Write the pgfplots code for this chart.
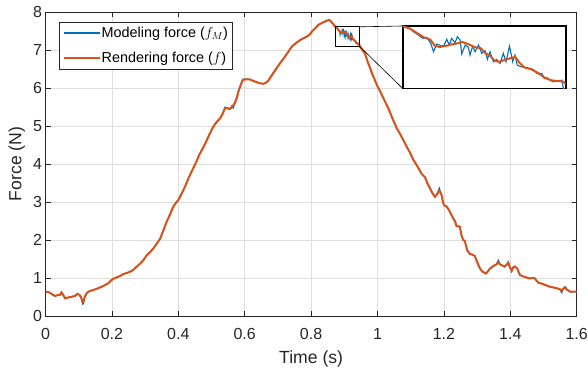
\documentclass[border=0pt]{standalone}
\usepackage{fontspec}
\setmainfont{Liberation Sans}
\usepackage{pgfplots}
\usepackage{pgfplotstable}
\pgfplotsset{compat=1.18}
\definecolor{mblue}{rgb}{0,0.447,0.741}
\definecolor{morange}{rgb}{0.85,0.325,0.098}
\definecolor{axgray}{rgb}{0.15,0.15,0.15}

\pgfplotstableread{
x y
0.000 0.64
0.008 0.63
0.015 0.60
0.022 0.56
0.029 0.53
0.037 0.55
0.044 0.56
0.048 0.62
0.053 0.56
0.059 0.47
0.066 0.48
0.074 0.50
0.082 0.51
0.089 0.53
0.096 0.58
0.102 0.56
0.107 0.50
0.112 0.38
0.115 0.40
0.118 0.50
0.123 0.58
0.129 0.64
0.139 0.67
0.149 0.70
0.159 0.73
0.169 0.77
0.179 0.81
0.189 0.86
0.196 0.92
0.202 0.97
0.213 1.01
0.224 1.05
0.234 1.10
0.244 1.13
0.254 1.16
0.264 1.21
0.275 1.30
0.285 1.38
0.295 1.47
0.305 1.60
0.315 1.68
0.325 1.78
0.335 1.90
0.345 2.03
0.355 2.25
0.365 2.48
0.375 2.67
0.385 2.88
0.393 2.98
0.400 3.05
0.410 3.22
0.420 3.40
0.432 3.65
0.445 3.89
0.455 4.07
0.463 4.24
0.475 4.43
0.486 4.63
0.495 4.80
0.505 4.98
0.515 5.10
0.526 5.20
0.534 5.33
0.541 5.47
0.548 5.47
0.556 5.45
0.562 5.52
0.566 5.55
0.571 5.62
0.576 5.73
0.581 5.90
0.586 6.03
0.594 6.21
0.604 6.23
0.614 6.23
0.622 6.20
0.631 6.17
0.643 6.13
0.656 6.11
0.664 6.14
0.671 6.19
0.683 6.35
0.696 6.52
0.708 6.67
0.721 6.82
0.731 6.95
0.742 7.09
0.754 7.18
0.767 7.26
0.777 7.31
0.787 7.35
0.795 7.40
0.802 7.48
0.812 7.57
0.822 7.66
0.832 7.71
0.842 7.75
0.850 7.78
0.855 7.79
0.861 7.74
0.867 7.68
0.872 7.62
0.874 7.607
0.877 7.59
0.880 7.556
0.883 7.52
0.886 7.50
0.888 7.45
0.890 7.44
0.893 7.45
0.895 7.46
0.898 7.47
0.900 7.48
0.903 7.46
0.905 7.44
0.908 7.43
0.910 7.39
0.912 7.37
0.914 7.33
0.916 7.32
0.919 7.34
0.921 7.35
0.923 7.36
0.925 7.31
0.927 7.275
0.930 7.26
0.933 7.23
0.936 7.19
0.939 7.17
0.942 7.165
0.944 7.16
0.945 7.14
0.950 7.06
0.956 6.98
0.962 6.91
0.967 6.78
0.972 6.65
0.978 6.52
0.983 6.39
0.990 6.25
0.998 6.08
1.005 5.96
1.013 5.82
1.020 5.69
1.028 5.55
1.036 5.40
1.043 5.24
1.050 5.10
1.058 4.94
1.068 4.79
1.078 4.63
1.088 4.45
1.098 4.30
1.108 4.11
1.118 3.97
1.126 3.85
1.133 3.74
1.143 3.65
1.150 3.50
1.158 3.36
1.165 3.24
1.173 3.14
1.180 3.21
1.186 3.30
1.190 3.25
1.193 3.18
1.197 3.00
1.200 2.92
1.208 2.88
1.213 2.82
1.218 2.74
1.228 2.57
1.233 2.50
1.238 2.37
1.248 2.35
1.253 2.13
1.258 2.00
1.263 1.98
1.270 1.74
1.278 1.63
1.285 1.62
1.293 1.58
1.299 1.45
1.304 1.34
1.309 1.25
1.314 1.19
1.320 1.15
1.327 1.12
1.333 1.18
1.339 1.25
1.347 1.30
1.354 1.34
1.359 1.36
1.364 1.42
1.369 1.36
1.374 1.34
1.383 1.30
1.389 1.35
1.394 1.40
1.399 1.28
1.404 1.19
1.409 1.28
1.414 1.30
1.421 1.25
1.429 1.08
1.436 1.05
1.444 1.03
1.452 1.00
1.459 0.99
1.466 1.00
1.474 0.99
1.479 0.93
1.484 0.88
1.491 0.86
1.499 0.84
1.510 0.80
1.520 0.77
1.530 0.75
1.540 0.73
1.548 0.71
1.555 0.68
1.560 0.72
1.565 0.76
1.570 0.70
1.578 0.65
1.585 0.64
1.592 0.64
1.600 0.64
}\orangedata

\pgfplotstableread{
x y
0.000 0.65
0.008 0.63
0.015 0.61
0.022 0.55
0.029 0.52
0.037 0.56
0.044 0.55
0.048 0.63
0.053 0.55
0.059 0.45
0.066 0.49
0.074 0.49
0.082 0.52
0.089 0.52
0.096 0.59
0.102 0.55
0.107 0.48
0.112 0.31
0.115 0.33
0.118 0.50
0.123 0.59
0.129 0.64
0.139 0.68
0.149 0.70
0.159 0.74
0.169 0.77
0.179 0.82
0.189 0.86
0.196 0.93
0.202 0.97
0.213 1.02
0.224 1.05
0.234 1.11
0.244 1.13
0.254 1.17
0.264 1.21
0.275 1.31
0.285 1.38
0.295 1.48
0.305 1.60
0.315 1.69
0.325 1.78
0.335 1.91
0.345 2.03
0.355 2.26
0.365 2.48
0.375 2.68
0.385 2.88
0.393 2.99
0.400 3.05
0.410 3.23
0.420 3.40
0.432 3.66
0.445 3.89
0.455 4.08
0.463 4.24
0.475 4.44
0.486 4.63
0.495 4.81
0.505 4.98
0.515 5.11
0.526 5.20
0.534 5.35
0.541 5.50
0.548 5.46
0.556 5.44
0.562 5.50
0.566 5.47
0.571 5.64
0.576 5.76
0.581 5.93
0.586 6.05
0.594 6.23
0.604 6.24
0.614 6.23
0.622 6.21
0.631 6.17
0.643 6.13
0.656 6.11
0.664 6.15
0.671 6.19
0.683 6.36
0.696 6.53
0.708 6.68
0.721 6.83
0.731 6.95
0.742 7.10
0.754 7.18
0.767 7.27
0.777 7.31
0.787 7.36
0.795 7.40
0.802 7.49
0.812 7.57
0.822 7.67
0.832 7.71
0.842 7.76
0.850 7.78
0.855 7.80
0.861 7.73
0.867 7.69
0.872 7.61
0.8740 7.605
0.8765 7.599
0.8786 7.564
0.8808 7.537
0.8827 7.510
0.8845 7.518
0.8862 7.470
0.8874 7.402
0.8888 7.464
0.8910 7.448
0.8920 7.456
0.8932 7.502
0.8943 7.456
0.8953 7.510
0.8968 7.475
0.8978 7.524
0.8990 7.497
0.8997 7.383
0.9012 7.456
0.9026 7.437
0.9033 7.375
0.9045 7.448
0.9055 7.402
0.9070 7.456
0.9084 7.389
0.9099 7.410
0.9109 7.340
0.9120 7.402
0.9135 7.321
0.9149 7.340
0.9164 7.308
0.9178 7.389
0.9190 7.321
0.9205 7.448
0.9219 7.321
0.9229 7.375
0.9239 7.294
0.9254 7.281
0.9273 7.275
0.9292 7.267
0.9309 7.259
0.9324 7.227
0.9335 7.221
0.9346 7.227
0.9356 7.186
0.9367 7.194
0.9379 7.173
0.9396 7.159
0.9411 7.167
0.9422 7.162
0.9433 7.173
0.9440 7.105
0.9450 7.090
0.950 7.05
0.956 6.99
0.962 6.90
0.967 6.79
0.972 6.64
0.978 6.53
0.983 6.38
0.990 6.26
0.998 6.07
1.005 5.97
1.013 5.81
1.020 5.70
1.028 5.54
1.036 5.41
1.043 5.23
1.050 5.11
1.058 4.93
1.068 4.80
1.078 4.62
1.088 4.46
1.098 4.29
1.108 4.12
1.118 3.96
1.126 3.86
1.133 3.73
1.143 3.66
1.150 3.49
1.158 3.37
1.165 3.23
1.173 3.13
1.180 3.22
1.186 3.37
1.190 3.26
1.193 3.17
1.197 3.01
1.200 2.91
1.208 2.89
1.213 2.81
1.218 2.75
1.228 2.56
1.233 2.51
1.238 2.36
1.248 2.36
1.253 2.10
1.258 2.00
1.263 1.97
1.270 1.72
1.278 1.64
1.285 1.61
1.293 1.59
1.299 1.43
1.304 1.31
1.309 1.24
1.314 1.17
1.320 1.14
1.327 1.11
1.333 1.19
1.339 1.26
1.347 1.31
1.354 1.33
1.359 1.38
1.364 1.47
1.369 1.35
1.374 1.33
1.383 1.31
1.389 1.36
1.394 1.43
1.399 1.26
1.404 1.17
1.409 1.29
1.414 1.31
1.421 1.24
1.429 1.07
1.436 1.05
1.444 1.02
1.452 1.01
1.459 0.98
1.466 1.01
1.474 0.98
1.479 0.93
1.484 0.87
1.491 0.86
1.499 0.83
1.510 0.80
1.520 0.76
1.530 0.75
1.540 0.72
1.548 0.71
1.555 0.61
1.560 0.73
1.565 0.77
1.570 0.69
1.578 0.64
1.585 0.63
1.592 0.64
1.600 0.63
}\bluedata

\begin{document}
\begin{tikzpicture}
\path[use as bounding box] (0pt,0pt) rectangle (588pt,369pt);
\begin{axis}[
  at={(45.5pt,53pt)}, anchor=south west,
  scale only axis, width=531.2pt, height=304pt,
  xmin=0, xmax=1.6, ymin=0, ymax=8,
  xtick={0,0.2,0.4,0.6,0.8,1,1.2,1.4,1.6},
  xticklabels={0,0.2,0.4,0.6,0.8,1,1.2,1.4,1.6},
  ytick={0,1,2,3,4,5,6,7,8},
  yticklabels={0,1,2,3,4,5,6,7,8},
  tick align=inside, major tick length=5pt,
  xtick pos=both, ytick pos=both,
  grid=major,
  grid style={black!13, line width=0.6pt},
  axis line style={axgray, line width=0.8pt},
  tick style={axgray, line width=0.8pt},
  tick label style={font=\fontsize{16}{19}\selectfont, text=axgray},
  xticklabel style={anchor=base, yshift=-23pt},
  label style={font=\fontsize{17.6}{21}\selectfont, text=axgray},
  xlabel={Time (s)}, ylabel={Force (N)},
  xlabel style={at={(axis description cs:0.5,-0.1546)}, anchor=base},
  ylabel style={at={(axis description cs:-0.0452,0.5)}, anchor=base},
  legend style={at={(axis description cs:0.026,0.968)}, anchor=north west,
    draw=axgray, line width=0.6pt, fill=white,
    font=\fontsize{14.4}{17}\selectfont,
    inner xsep=3pt, inner ysep=4pt, row sep=11pt,
    nodes={inner sep=1pt, text=black}},
  legend cell align=left,
  legend image code/.code={\draw[#1] (0pt,0pt) -- (36pt,0pt);},
]
\addplot[mblue, line width=1.1pt] table[x=x,y=y] {\bluedata};
\addlegendentry{Modeling force ($f_M$)}
\addplot[morange, line width=2pt] table[x=x,y=y] {\orangedata};
\addlegendentry{Rendering force ($f$)}
\draw[black, line width=0.8pt] (axis cs:0.874,7.105) rectangle (axis cs:0.945,7.61);
\draw[black, line width=0.6pt] (axis cs:0.945,7.61) -- (axis cs:1.0759,7.632);
\draw[black, line width=0.6pt] (axis cs:0.945,7.105) -- (axis cs:1.0759,5.987);
\end{axis}
\begin{axis}[
  at={(402.7pt,280.5pt)}, anchor=south west,
  scale only axis, width=163pt, height=62.5pt,
  xmin=0.874, xmax=0.945, ymin=7.105, ymax=7.61,
  xtick=\empty, ytick=\empty,
  axis line style={black, line width=1.6pt},
  axis background/.style={fill=white},
]
\addplot[mblue, line width=1.1pt] table[x=x,y=y] {\bluedata};
\addplot[morange, line width=2pt] table[x=x,y=y] {\orangedata};
\end{axis}
\end{tikzpicture}
\end{document}
